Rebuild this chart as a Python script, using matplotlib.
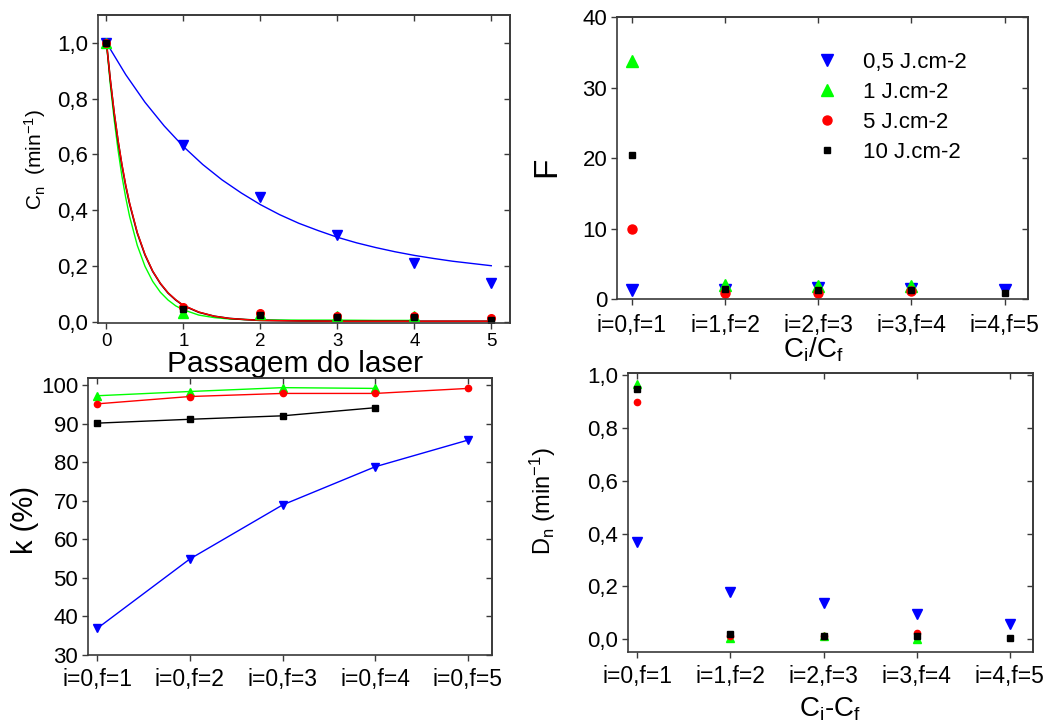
import matplotlib as mpl
mpl.use('Agg')
import matplotlib.pyplot as plt
from matplotlib.ticker import FuncFormatter

plt.rcParams['font.family'] = ['Liberation Sans', 'DejaVu Sans']
plt.rcParams['mathtext.default'] = 'regular'

# passagens do laser (painel Cn)
passagem = [0, 1, 2, 3, 4, 5]
cn_05 = [1.0, 0.635, 0.449, 0.311, 0.21, 0.139]
cn_1 = [1.0, 0.033, 0.028, 0.02, 0.021]
cn_5 = [1.0, 0.052, 0.031, 0.02, 0.02, 0.014]
cn_10 = [1.0, 0.045, 0.026, 0.018, 0.018, 0.006]

# curvas de ajuste (decaimento exponencial)
aj_x_05 = [0, 0.25, 0.5, 0.75, 1.0, 1.25, 1.5, 1.75, 2.0, 2.25, 2.5,
           2.75, 3.0, 3.25, 3.5, 3.75, 4.0, 4.25, 4.5, 4.75, 5.0]
aj_05 = [1.0, 0.886, 0.787, 0.702, 0.628, 0.564, 0.509, 0.462, 0.420, 0.384, 0.353,
         0.327, 0.303, 0.283, 0.266, 0.251, 0.238, 0.227, 0.217, 0.209, 0.201]
aj_x = [0, 0.05, 0.1, 0.15, 0.2, 0.25, 0.3, 0.4, 0.5, 0.6, 0.7, 0.8, 0.9, 1.0,
        1.2, 1.4, 1.6, 1.8, 2.0, 2.5, 3.0, 3.5, 4.0, 4.5, 5.0]
aj_1 = [1.0, 0.85, 0.725, 0.616, 0.523, 0.445, 0.378, 0.274, 0.199, 0.145, 0.106,
        0.078, 0.057, 0.043, 0.024, 0.015, 0.010, 0.008, 0.007, 0.006, 0.006, 0.005, 0.005]
aj_5 = [1.0, 0.868, 0.752, 0.652, 0.566, 0.49, 0.426, 0.32, 0.242, 0.182, 0.138,
        0.104, 0.079, 0.059, 0.035, 0.02, 0.012, 0.008, 0.005, 0.003, 0.002, 0.002,
        0.002, 0.002, 0.002]
aj_10 = [1.0, 0.866, 0.748, 0.648, 0.562, 0.487, 0.423, 0.318, 0.24, 0.181, 0.137,
         0.103, 0.078, 0.058, 0.034, 0.02, 0.012, 0.008, 0.005, 0.003, 0.002, 0.002,
         0.002, 0.002, 0.002]

# rotulos das categorias
pos = [1, 2, 3, 4, 5]
rot_k = ['i=0,f=1', 'i=0,f=2', 'i=0,f=3', 'i=0,f=4', 'i=0,f=5']
rot_par = ['i=0,f=1', 'i=1,f=2', 'i=2,f=3', 'i=3,f=4', 'i=4,f=5']

# k (%)
k_05 = [36.9, 54.9, 68.9, 78.8, 85.7]
k_1 = [97.2, 98.3, 99.3, 99.1]
k_5 = [95.1, 97.0, 97.8, 97.8, 99.1]
k_10 = [90.1, 91.1, 92.0, 94.1]

# F = Ci/Cf
f_05 = [1.3, 1.3, 1.6, 1.4, 1.3]
f_1 = [33.8, 2.0, 1.9, 1.9]
f_5 = [10.0, 0.9, 0.8, 1.1]
f_10 = [20.4, 1.4, 1.3, 1.3, 0.9]

# Dn = Ci - Cf
d_05 = [0.366, 0.177, 0.135, 0.095, 0.056]
d_1 = [0.968, 0.006, 0.012, 0.0]
d_5 = [0.897, 0.01, 0.01, 0.024]
d_10 = [0.946, 0.019, 0.011, 0.011, 0.005]

azul, verde, verm, preto = '#0000ff', '#00ff00', '#ff0000', '#000000'
cor_eixo = '#3a3a3a'
virgula = FuncFormatter(lambda v, p: ('%.1f' % v).replace('.', ','))


def estilo(ax, xt, yt):
    for s in ax.spines.values():
        s.set_color(cor_eixo)
        s.set_linewidth(1.2)
    ax.set_xticks(xt)
    ax.set_yticks(yt)
    ax.tick_params(direction='out', length=4, width=1, color=cor_eixo,
                   labelsize=16, pad=3)
    # tracos espelhados para dentro em cima e a direita
    top = ax.secondary_xaxis('top')
    top.set_xticks(xt)
    top.tick_params(direction='in', length=4, width=1, color=cor_eixo, labeltop=False)
    right = ax.secondary_yaxis('right')
    right.set_yticks(yt)
    right.tick_params(direction='in', length=4, width=1, color=cor_eixo, labelright=False)
    for sec in (top, right):
        for s in sec.spines.values():
            s.set_color(cor_eixo)
            s.set_linewidth(1.2)


fig = plt.figure(figsize=(10.45, 7.24), dpi=100)

# --- Cn x passagem ---
ax1 = fig.add_axes([0.0938, 0.554, 0.394, 0.4254])
ax1.plot(aj_x_05, aj_05, color=azul, lw=1)
ax1.plot(aj_x[:len(aj_1)], aj_1, color=verde, lw=1)
ax1.plot(aj_x, aj_10, color=preto, lw=1.2)
ax1.plot(aj_x, aj_5, color=verm, lw=1)
ax1.plot(passagem, cn_05, 'v', color=azul, ms=7.5, ls='none')
ax1.plot(passagem[:len(cn_1)], cn_1, '^', color=verde, ms=7, ls='none')
ax1.plot(passagem, cn_5, 'o', color=verm, ms=5.5, ls='none')
ax1.plot(passagem, cn_10, 's', color=preto, ms=5, ls='none')
ax1.set_xlim(-0.11, 5.24)
ax1.set_ylim(-0.004, 1.1)
estilo(ax1, passagem, [0, 0.2, 0.4, 0.6, 0.8, 1.0])
ax1.tick_params(axis='x', labelsize=13.5)
ax1.yaxis.set_major_formatter(virgula)
ax1.set_xlabel('Passagem do laser', fontsize=21.5, va='center')
ax1.xaxis.set_label_coords(0.478, -0.135)
ax1.set_ylabel('C$_n$  (min$^{-1}$)', fontsize=15, va='center')
ax1.yaxis.set_label_coords(-0.153, 0.532)

# --- F ---
ax2 = fig.add_axes([0.5904, 0.587, 0.3933, 0.3895])
ax2.plot(pos, f_05, 'v', color=azul, ms=9, ls='none', label='0,5 J.cm-2')
ax2.plot(pos[:len(f_1)], f_1, '^', color=verde, ms=9, ls='none', label='1 J.cm-2')
ax2.plot(pos[:len(f_5)], f_5, 'o', color=verm, ms=6.5, ls='none', label='5 J.cm-2')
ax2.plot(pos, f_10, 's', color=preto, ms=5, ls='none', label='10 J.cm-2')
ax2.set_xlim(0.84, 5.25)
ax2.set_ylim(0, 40)
estilo(ax2, pos, [0, 10, 20, 30, 40])
ax2.set_xticklabels(rot_par, fontsize=16.5)
ax2.tick_params(axis='x', pad=7)
ax2.set_xlabel('C$_i$/C$_f$', fontsize=20, va='center')
ax2.xaxis.set_label_coords(0.477, -0.18)
ax2.set_ylabel('F', fontsize=24, va='center')
ax2.yaxis.set_label_coords(-0.17, 0.468)
ax2.legend(loc='upper left', bbox_to_anchor=(0.483, 0.875), frameon=False,
           fontsize=16, handlelength=1, handletextpad=1.12, labelspacing=0.4,
           borderpad=0, borderaxespad=0)

# --- k (%) ---
ax3 = fig.add_axes([0.0842, 0.0953, 0.3866, 0.3826])
ax3.plot(pos, k_05, 'v-', color=azul, ms=6, lw=1)
ax3.plot(pos[:len(k_1)], k_1, '^-', color=verde, ms=6, lw=1)
ax3.plot(pos, k_5, 'o-', color=verm, ms=4.5, lw=1)
ax3.plot(pos[:len(k_10)], k_10, 's-', color=preto, ms=4.5, lw=1)
ax3.set_xlim(0.9, 5.26)
ax3.set_ylim(30, 101.8)
estilo(ax3, pos, [30, 40, 50, 60, 70, 80, 90, 100])
ax3.set_xticklabels(rot_k, fontsize=16.5)
ax3.tick_params(axis='x', pad=5)
ax3.set_ylabel('k (%)', fontsize=21, va='center')
ax3.yaxis.set_label_coords(-0.156, 0.487)

# --- Dn ---
ax4 = fig.add_axes([0.601, 0.0994, 0.3876, 0.3854])
ax4.plot(pos, d_05, 'v', color=azul, ms=6.5, ls='none')
ax4.plot(pos[:len(d_1)], d_1, '^', color=verde, ms=6, ls='none')
ax4.plot(pos[:len(d_5)], d_5, 'o', color=verm, ms=4.5, ls='none')
ax4.plot(pos, d_10, 's', color=preto, ms=5, ls='none')
ax4.set_xlim(0.9, 5.25)
ax4.set_ylim(-0.049, 1.008)
estilo(ax4, pos, [0, 0.2, 0.4, 0.6, 0.8, 1.0])
ax4.yaxis.set_major_formatter(virgula)
ax4.set_xticklabels(rot_par, fontsize=16.5)
ax4.tick_params(axis='x', pad=5)
ax4.set_xlabel('C$_i$-C$_f$', fontsize=20, va='center')
ax4.xaxis.set_label_coords(0.499, -0.205)
ax4.set_ylabel('D$_n$ (min$^{-1}$)', fontsize=17, va='center')
ax4.yaxis.set_label_coords(-0.21, 0.54)

fig.savefig('out.png', dpi=100)
